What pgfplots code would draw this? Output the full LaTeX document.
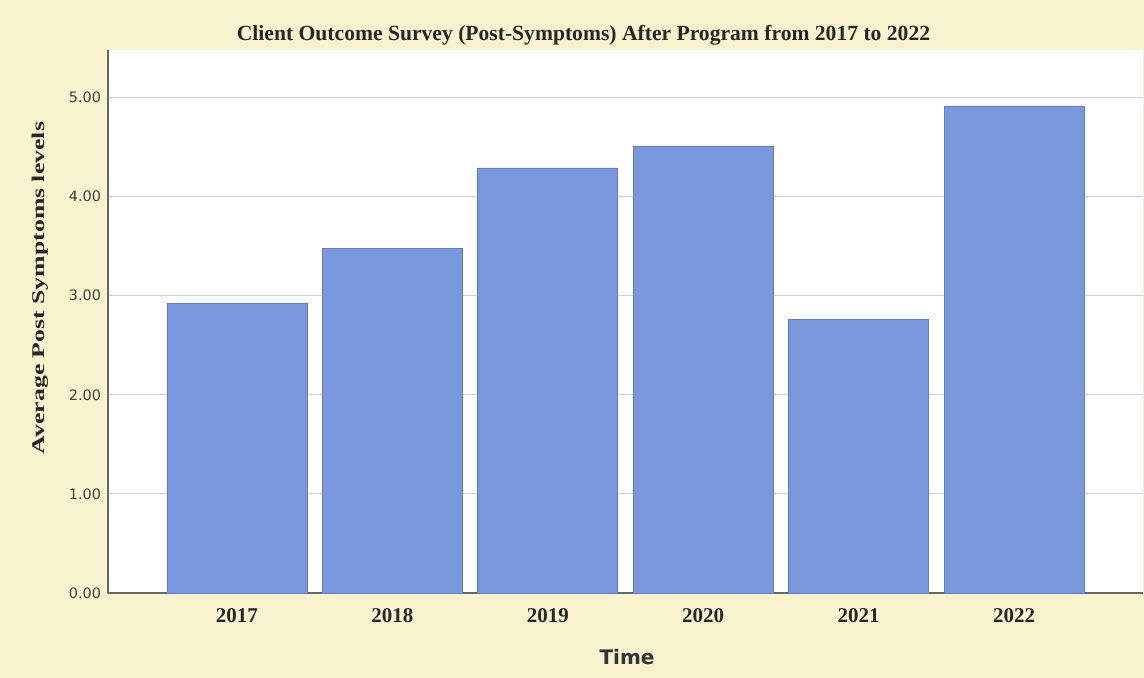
\documentclass[border=0pt]{standalone}
\usepackage{fontspec}
\setmainfont{Liberation Serif}
\newfontfamily\dejavu{DejaVu Sans}
\usepackage{pgfplots}
\pgfplotsset{compat=1.18}
\definecolor{bgcream}{RGB}{248,242,206}
\definecolor{barblue}{RGB}{122,150,220}
\definecolor{bardraw}{RGB}{100,125,190}
\begin{document}
\begin{tikzpicture}[x=1pt,y=1pt]
\fill[bgcream] (-54,-42.5) rectangle (518,296.5);
\begin{axis}[at={(0,0)}, anchor=south west, scale only axis,
  width=517.5pt, height=271.5pt,
  xmin=-0.83, xmax=5.83, ymin=0, ymax=5.48,
  axis background/.style={fill=white},
  ybar, bar width=70pt, bar shift=0pt,
  xtick={0,...,5}, xticklabels={2017,2018,2019,2020,2021,2022},
  xtick style={draw=none},
  ytick={0,1,2,3,4,5},
  ytick style={draw=none},
  /pgf/number format/assume math mode=true,
  yticklabel={\pgfmathprintnumber[fixed,fixed zerofill,precision=2]{\tick}},
  yticklabel style={font=\dejavu\fontsize{7.2}{8}\selectfont, text=black!75},
  xticklabel style={font=\bfseries\fontsize{10.5}{12}\selectfont, text=black!85},
  axis x line*=bottom, axis y line*=left,
  axis line style={-, black!60, line width=0.7pt},
  ymajorgrids, grid style={black!18, line width=0.5pt},
  clip=false,
]
\addplot[fill=barblue, draw=bardraw, line width=0.4pt] coordinates {
  (0,2.92) (1,3.48) (2,4.29) (3,4.51) (4,2.76) (5,4.91)};
\end{axis}
\node[font=\bfseries\fontsize{10.8}{13}\selectfont, text=black!85] at (237.75,279) {Client Outcome Survey (Post-Symptoms) After Program from 2017 to 2022};
\node[rotate=90, font=\bfseries\fontsize{11.2}{13}\selectfont, text=black!85] at (-34,152.5) {\scalebox{1.15}[0.8]{Average Post Symptoms levels}};
\node[font=\dejavu\bfseries\fontsize{10}{12}\selectfont, text=black!80] at (259.5,-32) {Time};
\pgfresetboundingbox
\useasboundingbox (-54,-42.5) rectangle (518,296.5);
\end{tikzpicture}
\end{document}
